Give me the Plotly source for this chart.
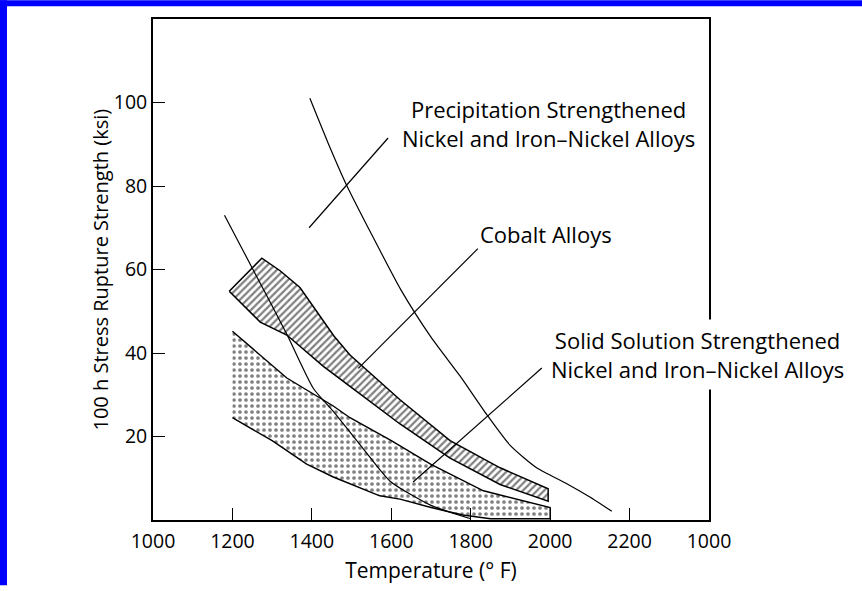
import plotly.graph_objects as go

# ---------------- data ----------------
# Precipitation strengthened Ni / Fe-Ni alloys (upper curve)
precip_T = [1395, 1440, 1486, 1550, 1625, 1700, 1773, 1840, 1900, 1966, 2042, 2100, 2155]
precip_S = [101, 90.5, 80.5, 68.5, 55, 43.8, 34.5, 25.3, 17.8, 12.5, 8.7, 5.5, 2.1]

# Cobalt alloys band (hatched)
cobalt_up_T = [1192, 1274, 1320, 1370, 1456, 1496, 1622, 1748, 1874, 1995]
cobalt_up_S = [54.8, 62.7, 59.7, 55.7, 44.0, 39.5, 28.8, 19.0, 12.5, 7.5]
cobalt_lo_T = [1192, 1270, 1337, 1429, 1496, 1622, 1748, 1874, 1995]
cobalt_lo_S = [54.8, 47.4, 44.3, 36.8, 32.0, 23.0, 14.8, 8.5, 4.5]

# Solid solution strengthened Ni / Fe-Ni alloys band (dotted)
solid_up_T = [1200, 1337, 1454, 1496, 1600, 1700, 1832, 2000]
solid_up_S = [45.2, 34.0, 27.3, 24.5, 19.0, 13.3, 7.0, 3.0]
solid_lo_T = [1200, 1300, 1387, 1454, 1571, 1622, 1700, 1780, 1850, 2000]
solid_lo_S = [24.5, 19.0, 13.4, 10.3, 5.8, 5.0, 3.0, 1.2, 0.3, 0.3]

# Thin unlabeled curve
thin_T = [1180, 1260, 1337, 1404, 1454, 1530, 1597, 1700, 1800]
thin_S = [73, 58.5, 44.5, 31.5, 26.0, 17.0, 9.3, 3.5, 0.3]

# Leader lines (start, end)
lead_precip_T = [1393, 1592]
lead_precip_S = [70, 91.5]
lead_cobalt_T = [1517, 1818]
lead_cobalt_S = [36.3, 65]
lead_solid_T = [1655, 1979]
lead_solid_S = [9.1, 36.4]

# Axis ticks
x_tickvals = [1000, 1200, 1400, 1600, 1800, 2000, 2200, 2400]
x_ticktext = ["1000", "1200", "1400", "1600", "1800", "2000", "2200", "1000"]
y_tickvals = [20, 40, 60, 80, 100]
y_ticktext = ["20", "40", "60", "80", "100"]

# Labels
label_precip = "Precipitation Strengthened<br>Nickel and Iron\u2013Nickel Alloys"
label_cobalt = "Cobalt Alloys"
label_solid = "Solid Solution Strengthened<br>Nickel and Iron\u2013Nickel Alloys"
x_title = "Temperature (\u00b0 F)"
y_title = "100 h Stress Rupture Strength (ksi)"

FONT = "Open Sans"
LBL = 22

fig = go.Figure()

# dotted band
fig.add_trace(go.Scatter(
    x=solid_up_T + solid_lo_T[::-1], y=solid_up_S + solid_lo_S[::-1],
    fill="toself", mode="lines",
    line=dict(color="black", width=1.4),
    fillcolor="white",
    fillpattern=dict(shape=".", size=6, solidity=0.3, fgcolor="black", bgcolor="white"),
    hoverinfo="skip"))

# hatched band
fig.add_trace(go.Scatter(
    x=cobalt_up_T + cobalt_lo_T[::-1], y=cobalt_up_S + cobalt_lo_S[::-1],
    fill="toself", mode="lines",
    line=dict(color="black", width=1.5),
    fillcolor="white",
    fillpattern=dict(shape="/", size=5, solidity=0.45, fgcolor="black", bgcolor="white"),
    hoverinfo="skip"))

# curves
fig.add_trace(go.Scatter(x=thin_T, y=thin_S, mode="lines",
                         line=dict(color="black", width=1.2, shape="spline", smoothing=0.6),
                         hoverinfo="skip"))
fig.add_trace(go.Scatter(x=precip_T, y=precip_S, mode="lines",
                         line=dict(color="black", width=1.2, shape="spline", smoothing=0.6),
                         hoverinfo="skip"))

# leaders
for lx, ly in [(lead_precip_T, lead_precip_S), (lead_cobalt_T, lead_cobalt_S), (lead_solid_T, lead_solid_S)]:
    fig.add_trace(go.Scatter(x=lx, y=ly, mode="lines",
                             line=dict(color="black", width=1.2), hoverinfo="skip"))

# labels
fig.add_annotation(x=1995, y=95, text=label_precip, showarrow=False,
                   font=dict(family=FONT, size=LBL, color="black"), align="center")
fig.add_annotation(x=1990, y=68.5, text=label_cobalt, showarrow=False,
                   font=dict(family=FONT, size=LBL, color="black"), align="center")
fig.add_annotation(x=2372, y=39.6, text=label_solid, showarrow=False,
                   font=dict(family=FONT, size=LBL, color="black"), align="center",
                   bgcolor="white", borderpad=5)

# page geometry
W, H = 862, 591
ml, mr, mt, mb = 153, 153, 19, 66
pw, ph = W - ml - mr, H - mt - mb
def px_x(p):
    return (p - ml) / pw
def px_y(p):
    return (H - p - mb) / ph

# y-axis title placed as rotated text
fig.add_annotation(xref="paper", yref="paper", x=px_x(100), y=0.5, text=y_title,
                   textangle=-90, showarrow=False, xanchor="center", yanchor="middle",
                   font=dict(family=FONT, size=20, color="black"))

# blue frame of the slide (top and left strips)
fig.add_shape(type="rect", xref="paper", yref="paper",
              x0=px_x(0), x1=px_x(W), y0=px_y(6), y1=px_y(0),
              fillcolor="#0000FF", line=dict(width=0), layer="below")
fig.add_shape(type="rect", xref="paper", yref="paper",
              x0=px_x(0), x1=px_x(7), y0=px_y(H), y1=px_y(0),
              fillcolor="#0000FF", line=dict(width=0), layer="below")

fig.update_layout(
    width=W, height=H,
    margin=dict(l=ml, r=mr, t=mt, b=mb, pad=0),
    paper_bgcolor="white", plot_bgcolor="white",
    showlegend=False, hovermode=False,
    font=dict(family=FONT, color="black"),
    xaxis=dict(range=[1000, 2400], tickvals=x_tickvals, ticktext=x_ticktext,
               ticks="inside", ticklen=12, tickwidth=1.3, tickcolor="black",
               showline=True, linecolor="black", linewidth=1.7, mirror=True,
               showgrid=False, zeroline=False,
               tickfont=dict(family=FONT, size=19.5, color="black"),
               ticklabelstandoff=3,
               title=dict(text=x_title, standoff=10,
                          font=dict(family=FONT, size=21, color="black"))),
    yaxis=dict(range=[0, 120], tickvals=y_tickvals, ticktext=y_ticktext,
               ticks="inside", ticklen=12, tickwidth=1.3, tickcolor="black",
               showline=True, linecolor="black", linewidth=1.7, mirror=True,
               showgrid=False, zeroline=False,
               tickfont=dict(family=FONT, size=19.5, color="black"),
               ticklabelstandoff=0),
)

fig.write_html("out.html", config={"displayModeBar": False},
               post_script="document.body.style.margin='0px';")
